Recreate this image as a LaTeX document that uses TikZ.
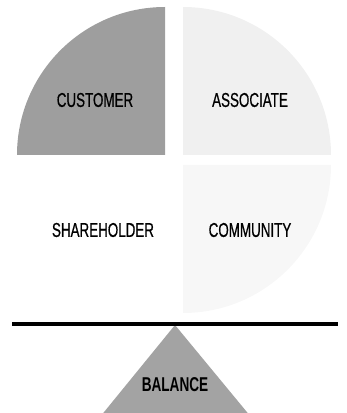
\documentclass[tikz,border=0pt]{standalone}
\usepackage{fontspec}
\setmainfont{Liberation Sans}
\newfontfamily\labelfont[FakeStretch=0.67, FakeBold=0.6]{Liberation Sans}
\newfontfamily\balancefont[FakeStretch=0.68]{Liberation Sans Bold}
\begin{document}
\begin{tikzpicture}[x=1pt,y=1pt,
  stakeholder/.style={font=\labelfont\fontsize{20}{20}\selectfont, inner sep=0pt},
  fulcrumlabel/.style={font=\balancefont\fontsize{20}{20}\selectfont, inner sep=0pt},
  customerfill/.style={fill=black!38},
  associatefill/.style={fill=black!6},
  communityfill/.style={fill=black!3},
  fulcrumfill/.style={fill=black!36},
  beam/.style={line width=4pt, draw=black}]
  \useasboundingbox (0,0) rectangle (346,413);
  \clip (0,0) rectangle (346,413);
  % four quarters of the stakeholder circle
  \path[customerfill] (165,258) -- (17,258) arc[start angle=180, end angle=90, radius=148] -- cycle;
  \path[associatefill] (183,258) -- (183,406) arc[start angle=90, end angle=0, radius=148] -- cycle;
  \path[communityfill] (183,248) -- (331,248) arc[start angle=0, end angle=-90, radius=148] -- cycle;
  % labels of the quarters
  \node[stakeholder] (customer) at (95,313) {CUSTOMER};
  \node[stakeholder] (associate) at (250,313) {ASSOCIATE};
  \node[stakeholder] (shareholder) at (103,183) {SHAREHOLDER};
  \node[stakeholder] (community) at (250,183) {COMMUNITY};
  % the balance beam resting on its fulcrum
  \coordinate (beamleft) at (12,89);
  \coordinate (beamright) at (338,89);
  \coordinate (apex) at (175,88);
  \path[fulcrumfill] (apex) -- (100,-4) -- (251,-4) -- cycle;
  \draw[beam] (beamleft) -- (beamright);
  \node[fulcrumlabel] (balance) at (175,28) {BALANCE};
\end{tikzpicture}
\end{document}
